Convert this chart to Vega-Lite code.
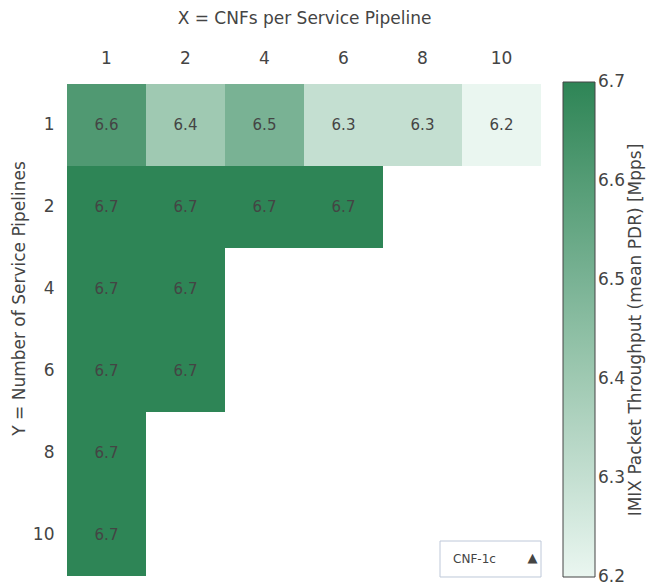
{
  "$schema": "https://vega.github.io/schema/vega-lite/v6.json",
  "autosize": "none",
  "width": 474,
  "height": 495,
  "padding": {"left": 67, "top": 82, "right": 108, "bottom": 9},
  "background": "white",
  "config": {
    "view": {"stroke": null},
    "font": "DejaVu Sans",
    "axis": {"labelFont": "DejaVu Sans", "titleFont": "DejaVu Sans", "labelColor": "#444", "titleColor": "#444", "labelFontSize": 17, "titleFontSize": 17, "titleFontWeight": "normal", "domain": false, "ticks": false, "grid": false},
    "legend": {"labelFont": "DejaVu Sans", "titleFont": "DejaVu Sans", "labelColor": "#444", "titleColor": "#444"}
  },
  "datasets": {
    "heat": [
      {"cnfs": "1", "pipelines": "1", "throughput": 6.61},
      {"cnfs": "2", "pipelines": "1", "throughput": 6.4},
      {"cnfs": "4", "pipelines": "1", "throughput": 6.5},
      {"cnfs": "6", "pipelines": "1", "throughput": 6.3},
      {"cnfs": "8", "pipelines": "1", "throughput": 6.3},
      {"cnfs": "10", "pipelines": "1", "throughput": 6.2},
      {"cnfs": "1", "pipelines": "2", "throughput": 6.7},
      {"cnfs": "2", "pipelines": "2", "throughput": 6.7},
      {"cnfs": "4", "pipelines": "2", "throughput": 6.7},
      {"cnfs": "6", "pipelines": "2", "throughput": 6.7},
      {"cnfs": "1", "pipelines": "4", "throughput": 6.7},
      {"cnfs": "2", "pipelines": "4", "throughput": 6.7},
      {"cnfs": "1", "pipelines": "6", "throughput": 6.7},
      {"cnfs": "2", "pipelines": "6", "throughput": 6.7},
      {"cnfs": "1", "pipelines": "8", "throughput": 6.7},
      {"cnfs": "1", "pipelines": "10", "throughput": 6.7}
    ],
    "menu": [{"label": "CNF-1c", "arrow": "▲", "cnfs": "10", "pipelines": "10"}]
  },
  "encoding": {
    "x": {"field": "cnfs", "type": "ordinal", "sort": ["1", "2", "4", "6", "8", "10"],
      "scale": {"domain": ["1", "2", "4", "6", "8", "10"], "paddingInner": 0, "paddingOuter": 0},
      "axis": {"orient": "top", "labelAngle": 0, "labelPadding": 15, "title": "X = CNFs per Service Pipeline", "titlePadding": 22}},
    "y": {"field": "pipelines", "type": "ordinal", "sort": ["1", "2", "4", "6", "8", "10"],
      "scale": {"domain": ["1", "2", "4", "6", "8", "10"], "paddingInner": 0, "paddingOuter": 0, "round": true},
      "axis": {"labelPadding": 13, "title": "Y = Number of Service Pipelines", "titlePadding": 4, "titleY": 216}}
  },
  "layer": [
    {
      "data": {"name": "heat"},
      "mark": {"type": "rect"},
      "encoding": {
        "color": {"field": "throughput", "type": "quantitative",
          "scale": {"domain": [6.2, 6.7], "range": ["#eaf6f0", "#2e8556"], "interpolate": "rgb"},
          "legend": {"orient": "none", "legendX": 496, "legendY": 0, "direction": "vertical",
            "gradientLength": 495, "gradientThickness": 32, "gradientStrokeColor": "#444", "gradientStrokeWidth": 1,
            "values": [6.2, 6.3, 6.4, 6.5, 6.6, 6.7], "format": ".1f", "labelFontSize": 17, "labelOffset": 3,
            "encode": {"labels": {"update": {"baseline": {"value": "middle"}}}, "title": {"update": {"angle": {"value": 270}, "baseline": {"value": "top"}}}},
            "title": "IMIX Packet Throughput (mean PDR) [Mpps]", "titleOrient": "right", "titleAnchor": "middle",
            "titleFontSize": 17, "titleFontWeight": "normal", "titlePadding": 3, "titleLimit": 600}}
      }
    },
    {
      "data": {"name": "heat"},
      "mark": {"type": "text", "color": "#444", "fontSize": 15, "font": "DejaVu Sans"},
      "encoding": {"text": {"field": "throughput", "type": "quantitative", "format": ".1f"}}
    },
    {
      "data": {"name": "menu"},
      "mark": {"type": "point", "shape": "M-1,-0.3564H1V0.3564H-1Z", "size": 10201, "filled": true, "fill": "white", "stroke": "#bec8d9", "strokeWidth": 1, "opacity": 1, "xOffset": -11, "yOffset": 24}
    },
    {
      "data": {"name": "menu"},
      "mark": {"type": "text", "color": "#444", "fontSize": 12, "font": "DejaVu Sans", "xOffset": -27, "yOffset": 24},
      "encoding": {"text": {"field": "label"}}
    },
    {
      "data": {"name": "menu"},
      "mark": {"type": "text", "color": "#444", "fontSize": 13, "font": "DejaVu Sans", "xOffset": 31, "yOffset": 23},
      "encoding": {"text": {"field": "arrow"}}
    }
  ]
}
